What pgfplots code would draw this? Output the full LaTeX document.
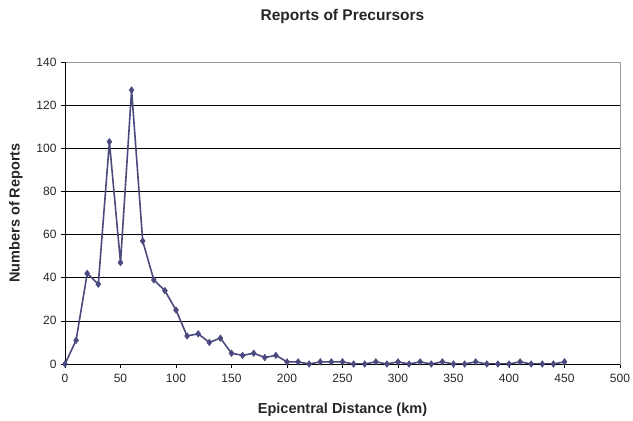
\documentclass[border=0pt]{standalone}
\usepackage{pgfplots}
\pgfplotsset{compat=1.18}
\usetikzlibrary{calc}
\usepackage{fontspec}
\setmainfont{Liberation Sans}
\definecolor{ser}{RGB}{75,74,126}
\begin{document}
\begin{tikzpicture}
\begin{axis}[
  name=ax,
  scale only axis,
  width=555pt, height=302pt,
  xmin=0, xmax=500, ymin=0, ymax=140,
  xtick={0,50,...,500}, ytick={0,20,...,140},
  ymajorgrids, grid style={black, line width=0.6pt},
  axis line style={draw=gray!80, line width=0.8pt},
  tick style={black, line width=0.6pt},
  tick align=outside, tick pos=left,
  major tick length=4pt,
  /pgf/number format/assume math mode=true,
  ticklabel style={font=\fontsize{12}{14}\selectfont, text=black!85},
  xticklabel style={yshift=-3pt},
  yticklabel style={xshift=-1pt},
  xlabel={\textbf{Epicentral Distance (km)}},
  ylabel={\textbf{Numbers of Reports}},
  every axis x label/.style={font=\fontsize{14.5}{16}\selectfont, text=black!85, at={(rel axis cs:0.5,0)}, anchor=center, yshift=-46pt},
  every axis y label/.style={font=\fontsize{14.5}{16}\selectfont, text=black!85, at={(rel axis cs:0,0.5)}, anchor=center, rotate=90, yshift=49pt},
  title={\textbf{Reports of Precursors}},
  title style={font=\fontsize{15.5}{17}\selectfont, text=black!85, at={(rel axis cs:0.5,1)}, anchor=center, yshift=40pt},
]
\addplot[color=ser, line width=1.6pt, mark=diamond*, mark size=3.3pt, mark options={fill=ser, draw=ser, line width=0.5pt}] coordinates {
(0,0) (10,11) (20,42) (30,37) (40,103) (50,47) (60,127) (70,57) (80,39) (90,34)
(100,25) (110,13) (120,14) (130,10) (140,12) (150,5) (160,4) (170,5) (180,3) (190,4)
(200,1) (210,1) (220,0) (230,1) (240,1) (250,1) (260,0) (270,0) (280,1) (290,0)
(300,1) (310,0) (320,1) (330,0) (340,1) (350,0) (360,0) (370,1) (380,0) (390,0)
(400,0) (410,1) (420,0) (430,0) (440,0) (450,1)
};
\draw[black, line width=0.8pt] (rel axis cs:0,0) -- (rel axis cs:1,0);
\draw[black, line width=0.8pt] (rel axis cs:0,0) -- (rel axis cs:0,1);
\end{axis}
\pgfresetboundingbox
\path ($(ax.south west)+(-65pt,-56pt)$) rectangle ($(ax.north east)+(13pt,62pt)$);
\end{tikzpicture}
\end{document}
